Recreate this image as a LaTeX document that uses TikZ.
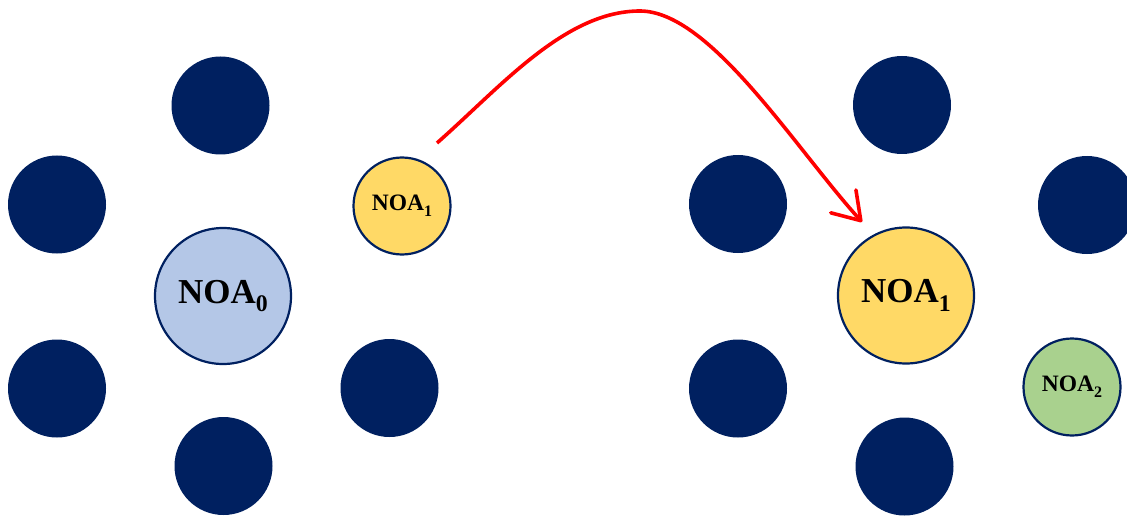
\documentclass[tikz,border=0pt]{standalone}
\usepackage{fontspec}
\setmainfont{Liberation Serif}
\usepackage{graphicx}
\usetikzlibrary{arrows.meta}
\definecolor{navy}{HTML}{002060}
\definecolor{lblue}{HTML}{B4C7E7}
\definecolor{noayel}{HTML}{FFD966}
\definecolor{noagrn}{HTML}{A9D18E}
\newcommand{\sbs}[1]{\raisebox{-0.24em}{\scalebox{0.68}{#1}}}
\tikzset{
  dot/.style={circle, fill=navy, draw=none, minimum size=98pt, inner sep=0pt},
  noa/.style={circle, draw=navy, line width=2.2pt, inner sep=0pt, font=\bfseries},
  bignoa/.style={noa, minimum size=136pt, font=\fontsize{35}{35}\selectfont\bfseries},
  smallnoa/.style={noa, minimum size=97pt, font=\fontsize{23.5}{23.5}\selectfont\bfseries},
  jump/.style={draw=red, line width=3.6pt, -{Straight Barb[length=26pt,width=34pt,line cap=round,line join=round]}}
}
\begin{document}
\begin{tikzpicture}[x=1pt,y=-1pt]
\useasboundingbox (0,0) rectangle (1127,516);
% left group
\node[dot] (l1) at (220.5,105.5) {};
\node[dot] (l2) at (57,204.5) {};
\node[dot] (l3) at (57,388.5) {};
\node[dot] (l4) at (223.5,466) {};
\node[dot] (l5) at (389.5,388) {};
\node[bignoa, fill=lblue] (n0) at (223,296) {NOA\sbs{0}};
\node[smallnoa, fill=noayel] (n1a) at (402,206) {NOA\sbs{1}};
% right group
\node[dot] (r1) at (902,105) {};
\node[dot] (r2) at (738,204) {};
\node[dot] (r3) at (738,388.5) {};
\node[dot] (r4) at (904.5,466.5) {};
\node[dot] (r5) at (1087,205) {};
\node[bignoa, fill=noayel] (n1b) at (906,295.5) {NOA\sbs{1}};
\node[smallnoa, fill=noagrn] (n2) at (1072,387) {NOA\sbs{2}};
% arrow
\coordinate (s) at (437,143);
\coordinate (p) at (640,11);
\coordinate (e) at (862,222);
\draw[jump] (s) .. controls (500.75,86.9) and (565,11) .. (p)
  .. controls (710,11) and (795,148) .. (e);
\end{tikzpicture}
\end{document}
